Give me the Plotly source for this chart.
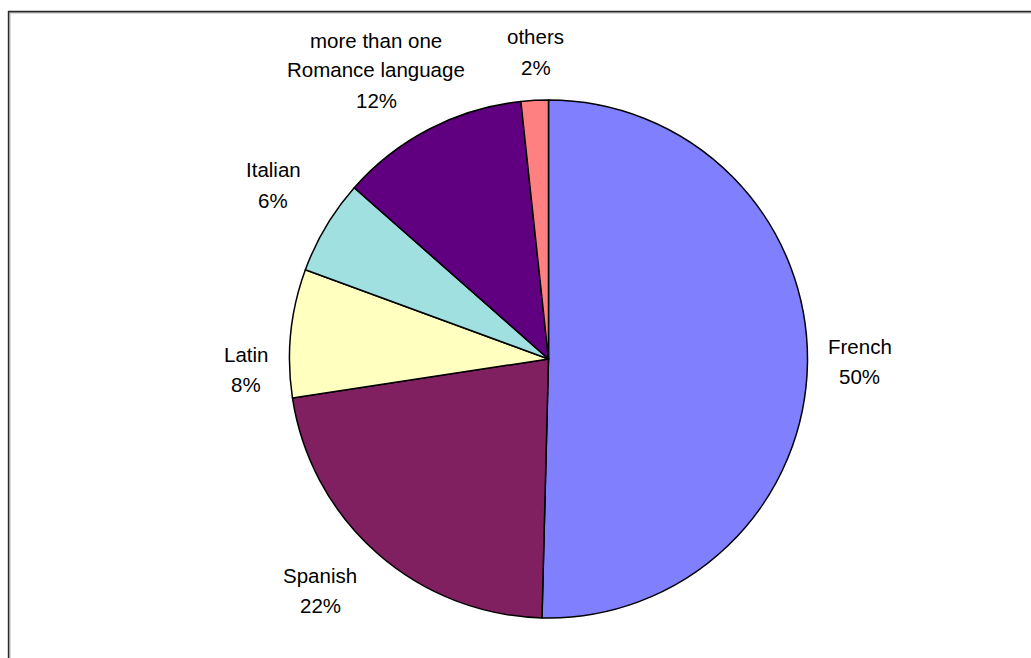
import plotly.graph_objects as go

# Languages and their shares (percent), clockwise from 12 o'clock
languages = ["French", "Spanish", "Latin", "Italian",
             "more than one<br>Romance language", "others"]
shares = [50.4, 22.2, 8.0, 5.9, 11.8, 1.7]
slice_colors = ["#8080FF", "#802060", "#FFFFC0", "#A0E0E0", "#600080", "#FF8080"]

# Label block centres, as pixel offsets from the pie centre
label_offsets = [(311, 2), (-228.5, 231), (-302.5, 10.5),
                 (-275.5, -174), (-172.5, -289), (-13, -307)]
LINE_PITCH = 30
LABEL_FONT = dict(family="Liberation Sans, Arial, sans-serif", size=20.5, color="#000000")

W, H = 1031, 658
ML, MR, MT, MB = 100, 34, 100, 40
pw, ph = W - ML - MR, H - MT - MB
cx, cy = ML + pw / 2, MT + ph / 2


def px_x(px):
    return (px - ML) / pw


def px_y(py):
    return 1 - (py - MT) / ph


fig = go.Figure(go.Pie(
    labels=[lab.replace("<br>", " ") for lab in languages],
    values=shares,
    sort=False,
    direction="clockwise",
    rotation=0,
    marker=dict(colors=slice_colors, line=dict(color="#000000", width=1.5)),
    textinfo="none",
    showlegend=False,
    hoverinfo="label+percent",
    automargin=False,
))

# Outside labels: name lines followed by the rounded percentage
total = sum(shares)
for lab, val, (ox, oy) in zip(languages, shares, label_offsets):
    lines = lab.split("<br>") + [f"{val / total * 100:.0f}%"]
    n = len(lines)
    for i, line in enumerate(lines):
        ly = cy + oy + (i - (n - 1) / 2) * LINE_PITCH
        fig.add_annotation(
            x=px_x(cx + ox), y=px_y(ly), xref="paper", yref="paper",
            text=line, showarrow=False, xanchor="center", yanchor="middle",
            font=LABEL_FONT,
        )

# Chart-area frame (runs past the right and bottom edges of the page)
fig.add_shape(type="rect", xref="paper", yref="paper",
              x0=px_x(10.2), y0=px_y(690), x1=px_x(1060), y1=px_y(13.2),
              line=dict(color="#C8C8C8", width=1), fillcolor="rgba(0,0,0,0)")
fig.add_shape(type="rect", xref="paper", yref="paper",
              x0=px_x(8.6), y0=px_y(690), x1=px_x(1060), y1=px_y(11.6),
              line=dict(color="#2A2A2A", width=1.6), fillcolor="rgba(0,0,0,0)")

fig.update_layout(
    width=W, height=H,
    margin=dict(l=ML, r=MR, t=MT, b=MB, autoexpand=False),
    paper_bgcolor="#FFFFFF",
    plot_bgcolor="#FFFFFF",
    font=dict(family="Liberation Sans, Arial, sans-serif", color="#000000"),
)

fig.write_html("out.html")
